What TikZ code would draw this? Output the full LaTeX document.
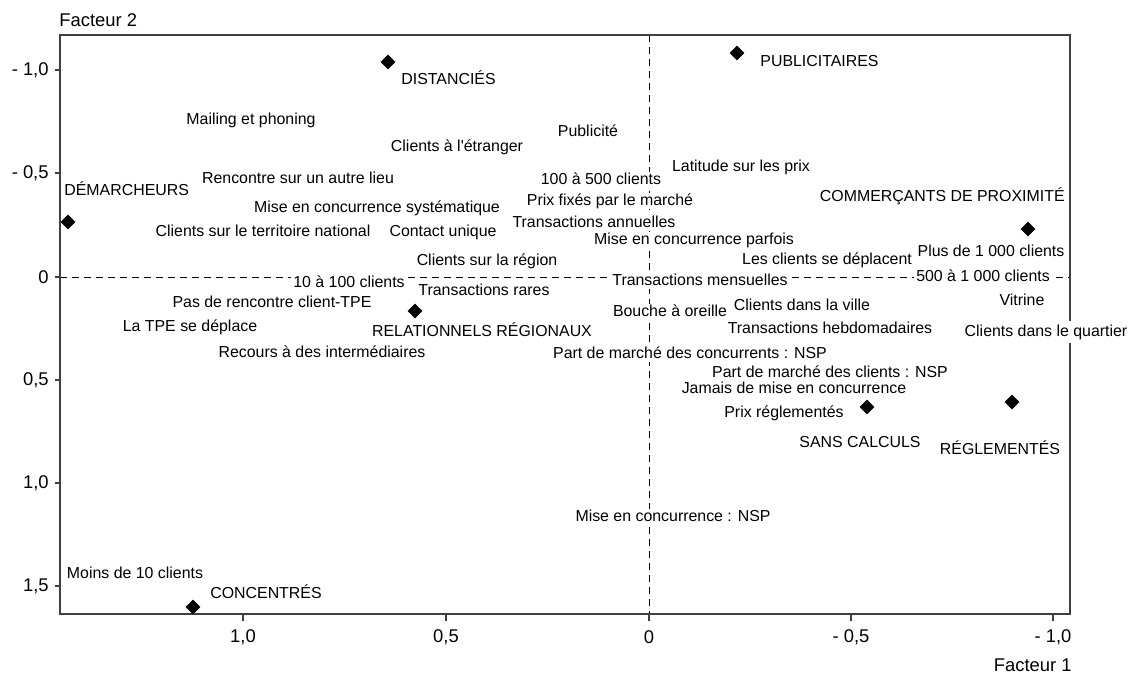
\documentclass[tikz,border=0pt]{standalone}
\usepackage{fontspec}
\setmainfont{Liberation Sans}
\usetikzlibrary{shapes.geometric}
\begin{document}
\begin{tikzpicture}[x=0.5pt,y=-0.5pt,
  lab/.style={font=\fontsize{7.95}{9}\selectfont, inner xsep=1pt, inner ysep=0.4pt, text height=5.8pt, text depth=1.6pt},
  labw/.style={lab, fill=white},
  axlab/.style={font=\fontsize{9.2}{11}\selectfont, inner sep=0pt},
  mk/.style={diamond, fill=black, inner sep=0pt, minimum width=7.6pt, minimum height=7.6pt},
  frame/.style={draw=black!75, line width=1pt},
  guide/.style={draw=black, line width=0.5pt, dash pattern=on 3.5pt off 2.5pt},
  tickmark/.style={draw=black!75, line width=0.6pt}]

\useasboundingbox (0,0) rectangle (1143,677);

% guide lines and frame
\coordinate (vT) at (649,35);
\coordinate (vB) at (649,614);
\coordinate (hL) at (60,277);
\coordinate (hR) at (1070,277);
\draw[guide] (vT) -- (vB);
\draw[guide] (hL) -- (hR);
\coordinate (fNW) at (60,35);
\coordinate (fSE) at (1070,614);
\draw[frame] (fNW) rectangle (fSE);

% ticks
\foreach \yy in {70,173,277,380,483,586} \draw[tickmark] (55,\yy) -- (60,\yy);
\foreach \xx in {243,446,649,851,1053} \draw[tickmark] (\xx,614) -- (\xx,621);

% axis labels
\node[axlab, anchor=west] (f2) at (59,20) {Facteur 2};
\node[axlab, anchor=east] (f1) at (1072,665) {Facteur 1};
\node[axlab, anchor=east] (ym10) at (49,70) {- 1,0};
\node[axlab, anchor=east] (ym05) at (49,173) {- 0,5};
\node[axlab, anchor=east] (y00) at (49,277) {0};
\node[axlab, anchor=east] (y05) at (49,380) {0,5};
\node[axlab, anchor=east] (y10) at (49,483) {1,0};
\node[axlab, anchor=east] (y15) at (49,586) {1,5};
\node[axlab] (x10) at (243,637) {1,0};
\node[axlab] (x05) at (446,637) {0,5};
\node[axlab] (x00) at (649,637) {0};
\node[axlab] (xm05) at (851,637) {- 0,5};
\node[axlab] (xm10) at (1053,637) {- 1,0};

% groups (markers)
\node[mk] (mDist) at (388,62) {};
\node[mk] (mPub) at (737,53) {};
\node[mk] (mDem) at (68,222) {};
\node[mk] (mCom) at (1028,229) {};
\node[mk] (mRel) at (415,311) {};
\node[mk] (mSans) at (867,407) {};
\node[mk] (mRegl) at (1012,402) {};
\node[mk] (mConc) at (193,607) {};

\node[lab, anchor=west] (tDist) at (399,80) {DISTANCIÉS};
\node[lab, anchor=west] (tPub) at (758,62) {PUBLICITAIRES};
\node[lab, anchor=west] (tDem) at (62,191) {DÉMARCHEURS};
\node[lab, anchor=east] (tCom) at (1067,197) {COMMERÇANTS DE PROXIMITÉ};
\node[lab] (tRel) at (482,332) {RELATIONNELS RÉGIONAUX};
\node[lab] (tSans) at (860,443) {SANS CALCULS};
\node[lab] (tRegl) at (1000,450) {RÉGLEMENTÉS};
\node[lab] (tConc) at (266,594) {CONCENTRÉS};

% modalities
\node[lab] (v1) at (251,120) {Mailing et phoning};
\node[lab] (v2) at (457,147) {Clients à l\textquotesingle étranger};
\node[lab] (v3) at (588,132) {Publicité};
\node[lab] (v4) at (741,167) {Latitude sur les prix};
\node[lab] (v5) at (298,179) {Rencontre sur un autre lieu};
\node[labw] (v6) at (601,180) {100 à 500 clients};
\node[labw] (v7) at (610,201) {Prix fixés par le marché};
\node[lab] (v8) at (377,208) {Mise en concurrence systématique};
\node[labw] (v10) at (694,240) {Mise en concurrence parfois};
\node[labw] (v9) at (594,223) {Transactions annuelles};
\node[lab] (v11) at (263,232) {Clients sur le territoire national};
\node[lab] (v12) at (443,232) {Contact unique};
\node[lab] (v13) at (487,261) {Clients sur la région};
\node[lab] (v14) at (827,260) {Les clients se déplacent};
\node[lab] (v15) at (991,252) {Plus de 1 000 clients};
\node[labw] (v16) at (349,283) {10 à 100 clients};
\node[lab] (v17) at (484,291) {Transactions rares};
\node[labw] (v18) at (700,281) {Transactions mensuelles};
\node[labw] (v19) at (983,277) {500 à 1 000 clients};
\node[lab] (v20) at (272,303) {Pas de rencontre client-TPE};
\node[lab] (v21) at (1022,301) {Vitrine};
\node[labw] (v22) at (670,312) {Bouche à oreille};
\node[lab] (v23) at (802,306) {Clients dans la ville};
\node[lab] (v24) at (190,327) {La TPE se déplace};
\node[lab] (v25) at (830,329) {Transactions hebdomadaires};
\node[labw, inner ysep=2pt] (v26) at (1046,332) {Clients dans le quartier};
\node[lab] (v27) at (322,353) {Recours à des intermédiaires};
\node[labw] (v28) at (690,354) {Part de marché des concurrents : NSP};
\node[lab] (v29) at (830,373) {Part de marché des clients : NSP};
\node[lab] (v30) at (794,389) {Jamais de mise en concurrence};
\node[lab] (v31) at (784,413) {Prix réglementés};
\node[labw] (v32) at (673,517) {Mise en concurrence : NSP};
\node[lab] (v33) at (135,574) {Moins de 10 clients};
\end{tikzpicture}
\end{document}
